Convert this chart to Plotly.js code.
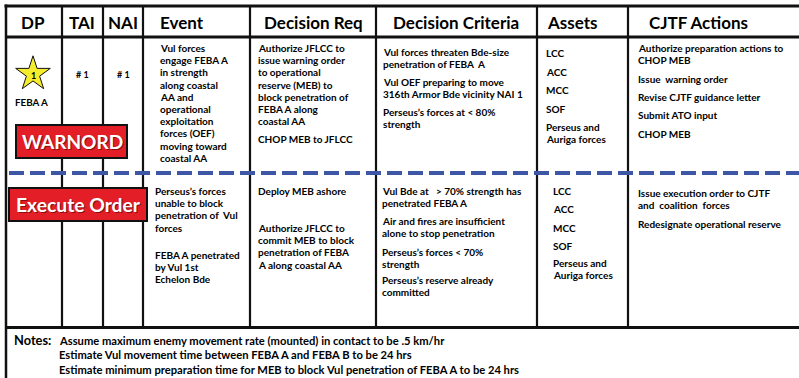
<!DOCTYPE html>
<html>
<head>
<meta charset="utf-8">
<script src="https://cdn.plot.ly/plotly-3.0.1.min.js"></script>
<style>html,body{margin:0;padding:0;background:#fff;}#chart{width:799px;height:378px;}</style>
</head>
<body>
<div id="chart"></div>
<script>
// ---- data (text content of the decision support matrix) ----
const headers = ["DP", "TAI", "NAI", "Event", "Decision Req", "Decision Criteria", "Assets", "CJTF Actions"];
const dpLabel = "FEBA A";
const dpNumber = "1";
const taiValue = "# 1";
const naiValue = "# 1";
const warnLabel = "WARNORD";
const execLabel = "Execute Order";

const warnEvent = ["Vul forces<br>engage FEBA A<br>in strength<br>along coastal<br>AA and<br>operational<br>exploitation<br>forces (OEF)<br>moving toward<br>coastal AA"];
const warnDecReq = ["Authorize JFLCC to<br>issue warning order<br>to operational<br>reserve (MEB) to<br>block penetration of<br>FEBA A along<br>coastal AA", "CHOP MEB to JFLCC"];
const warnCriteria = ["Vul forces threaten Bde-size<br>penetration of FEBA  A", "Vul OEF preparing to move<br>316th Armor Bde vicinity NAI 1", "Perseus’s forces at &lt; 80%<br>strength"];
const warnAssets = ["LCC", "ACC", "MCC", "SOF", "Perseus and<br>Auriga forces"];
const warnActions = ["Authorize preparation actions to<br>CHOP MEB", "Issue  warning order", "Revise CJTF guidance letter", "Submit ATO input", "CHOP MEB"];

const execEvent = ["Perseus’s forces<br>unable to block<br>penetration of  Vul<br>forces", "FEBA A penetrated<br>by Vul 1st<br>Echelon Bde"];
const execDecReq = ["Deploy MEB ashore", "Authorize JFLCC to<br>commit MEB to block<br>penetration of FEBA<br>A along coastal AA"];
const execCriteria = ["Vul Bde at   &gt; 70% strength has<br>penetrated FEBA A", "Air and fires are insufficient<br>alone to stop penetration", "Perseus’s forces &lt; 70%<br>strength", "Perseus’s reserve already<br>committed"];
const execAssets = ["LCC", "ACC", "MCC", "SOF", "Perseus and<br>Auriga forces"];
const execActions = ["Issue execution order to CJTF<br>and  coalition  forces", "Redesignate operational reserve"];

const notesLabel = "Notes:";
const notes = [
  "Assume maximum enemy movement rate (mounted) in contact to be .5 km/hr",
  "Estimate Vul movement time between FEBA A and FEBA B to be 24 hrs",
  "Estimate minimum preparation time for MEB to block Vul penetration of FEBA A to be 24 hrs"
];

// ---- layout geometry (pixel coordinates) ----
const FONT = "Lato";
const BODY = 10;
const LINE = 12.2;
const colLines = [62, 103, 143, 250, 376, 537, 628];
const headerPos = [
  {x: 33, a: "center"}, {x: 82, a: "center"}, {x: 123, a: "center"}, {x: 159, a: "left"},
  {x: 313, a: "center"}, {x: 456, a: "center"}, {x: 546, a: "left"}, {x: 648, a: "left"}
];

const annotations = [];
const shapes = [];

function txt(text, x, yFirst, opts) {
  opts = opts || {};
  const size = opts.size || BODY;
  const step = opts.step || LINE;
  text.split("<br>").forEach((line, i) => {
    annotations.push({
      x: x, y: yFirst + i * step, xref: "x", yref: "y", text: line, showarrow: false,
      xanchor: opts.anchor || "left", yanchor: "middle", align: opts.anchor || "left",
      font: {family: FONT, size: size, color: opts.color || "#000", weight: opts.weight || 700},
      borderpad: 0
    });
  });
}
function block(arr, x, ys) { arr.forEach((t, i) => txt(t, x, ys[i])); }

// headers
headers.forEach((h, i) => txt(h, headerPos[i].x, 22, {size: 17, anchor: headerPos[i].a}));

// upper section
txt(dpLabel, 31.5, 102, {anchor: "center", size: 9.8});
txt(taiValue, 82, 74, {anchor: "center", size: 9});
txt(naiValue, 123, 74, {anchor: "center", size: 9});
block(warnEvent, 159, [48]);
block(warnDecReq, 257, [48, 139]);
block(warnCriteria, 382, [52, 82, 112]);
block(warnAssets, 545, [53, 72, 90, 109, 127]);
block(warnActions, 637, [48, 79, 97, 115, 134]);

// lower section
block(execEvent, 154, [191, 255]);
block(execDecReq, 257, [191, 228]);
block(execCriteria, 381, [191, 221, 252, 280]);
block(execAssets, 552, [191, 209, 228, 246, 263]);
block(execActions, 637, [193, 224]);

// notes
txt(notesLabel, 12.5, 340, {size: 12.8});
notes.forEach((t, i) => txt(t, 58, 340 + i * 14.5, {size: 11.2}));

// grid lines
const K = "#111";
shapes.push({type: "line", x0: 4.5, x1: 800, y0: 6, y1: 6, line: {color: K, width: 3}});
shapes.push({type: "line", x0: 6, x1: 6, y0: 4.5, y1: 380, line: {color: K, width: 2.5}});
shapes.push({type: "line", x0: 6, x1: 800, y0: 37, y1: 37, line: {color: K, width: 3}});
shapes.push({type: "line", x0: 6, x1: 800, y0: 327.5, y1: 327.5, line: {color: K, width: 3}});
colLines.forEach(x => shapes.push({type: "line", x0: x, x1: x, y0: 6, y1: 327, line: {color: K, width: 2.2}}));
shapes.push({type: "line", x0: 9, x1: 800, y0: 173, y1: 173, line: {color: "#3d56a6", width: 4, dash: "15px,6px"}});

// red label boxes
shapes.push({type: "rect", x0: 16, x1: 127, y0: 125, y1: 158, fillcolor: "#e31e26", line: {color: K, width: 2}});
shapes.push({type: "rect", x0: 9, x1: 147, y0: 188, y1: 221, fillcolor: "#e31e26", line: {color: K, width: 2}});
function label(t, x, y, size) {
  annotations.push({x: x, y: y, xref: "x", yref: "y", text: t, showarrow: false, xanchor: "center", yanchor: "middle",
    xshift: 1, yshift: -1.2, font: {family: FONT, size: size, color: "rgba(60,0,0,0.55)", weight: 700}});
  annotations.push({x: x, y: y, xref: "x", yref: "y", text: t, showarrow: false, xanchor: "center", yanchor: "middle",
    font: {family: FONT, size: size, color: "#ffffff", weight: 700}});
}
label(warnLabel, 72.5, 141.5, 19);
label(execLabel, 78, 204.5, 19.3);

// star marker for decision point
const starTrace = {
  type: "scatter", mode: "markers", x: [33], y: [74], hoverinfo: "skip",
  marker: {symbol: "star", size: 26, color: "#f4ec2c", line: {color: "#111", width: 1}}
};
annotations.push({x: 33, y: 75, xref: "x", yref: "y", text: dpNumber, showarrow: false,
  font: {family: FONT, size: 9, color: "#000", weight: 700}});

const layout = {
  width: 799, height: 378, margin: {l: 0, r: 0, t: 0, b: 0},
  paper_bgcolor: "#fff", plot_bgcolor: "#fff", showlegend: false,
  xaxis: {range: [0, 799], visible: false, fixedrange: true},
  yaxis: {range: [378, 0], visible: false, fixedrange: true},
  shapes: shapes, annotations: annotations
};
Plotly.newPlot("chart", [starTrace], layout, {displayModeBar: false, staticPlot: true});
</script>
</body>
</html>
